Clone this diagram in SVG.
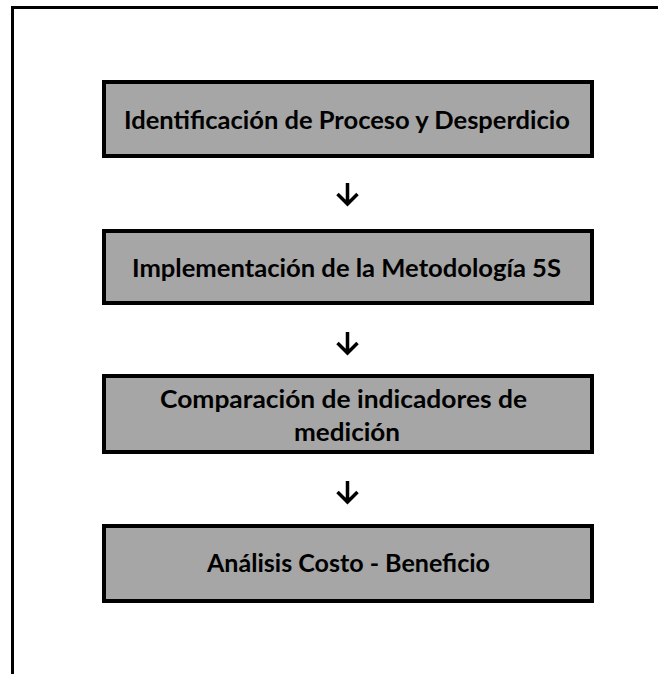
<svg xmlns="http://www.w3.org/2000/svg" width="658" height="674" viewBox="0 0 658 674">
<style>
.box{fill:#a6a6a6;stroke:#000;stroke-width:4}
.lbl{font-family:Lato,"Open Sans","Liberation Sans",sans-serif;font-weight:700;font-size:25px;fill:#000}
.arr{fill:none;stroke:#000;stroke-width:3.5;stroke-linecap:butt;stroke-linejoin:miter}
.frame{fill:none;stroke:#000;stroke-width:3}
</style>
<rect width="658" height="674" fill="#fff"/>
<path class="frame" d="M12.5 674 V7.5 H658"/>
<g id="node1">
<rect class="box" x="104" y="82" width="488" height="74"/>
<text class="lbl" x="124" y="129" textLength="446" lengthAdjust="spacingAndGlyphs">Identificación de Proceso y Desperdicio</text>
</g>
<g id="node2">
<rect class="box" x="104" y="231" width="488" height="72"/>
<text class="lbl" x="132" y="277" textLength="429" lengthAdjust="spacingAndGlyphs">Implementación de la Metodología 5S</text>
</g>
<g id="node3">
<rect class="box" x="104" y="376" width="488" height="76"/>
<text class="lbl" x="160" y="408" textLength="367" lengthAdjust="spacingAndGlyphs">Comparación de indicadores de</text>
<text class="lbl" x="294" y="441" textLength="106" lengthAdjust="spacingAndGlyphs">medición</text>
</g>
<g id="node4">
<rect class="box" x="104" y="526" width="488" height="75"/>
<text class="lbl" x="207" y="572" textLength="283" lengthAdjust="spacingAndGlyphs">Análisis Costo - Beneficio</text>
</g>
<g id="connectors">
<path class="arr" d="M347.5 183 V204 M337.5 194 L347.5 204 L357.5 194"/>
<path class="arr" d="M347.5 332 V353 M337.5 343 L347.5 353 L357.5 343"/>
<path class="arr" d="M347.5 481 V502 M337.5 492 L347.5 502 L357.5 492"/>
</g>
</svg>
